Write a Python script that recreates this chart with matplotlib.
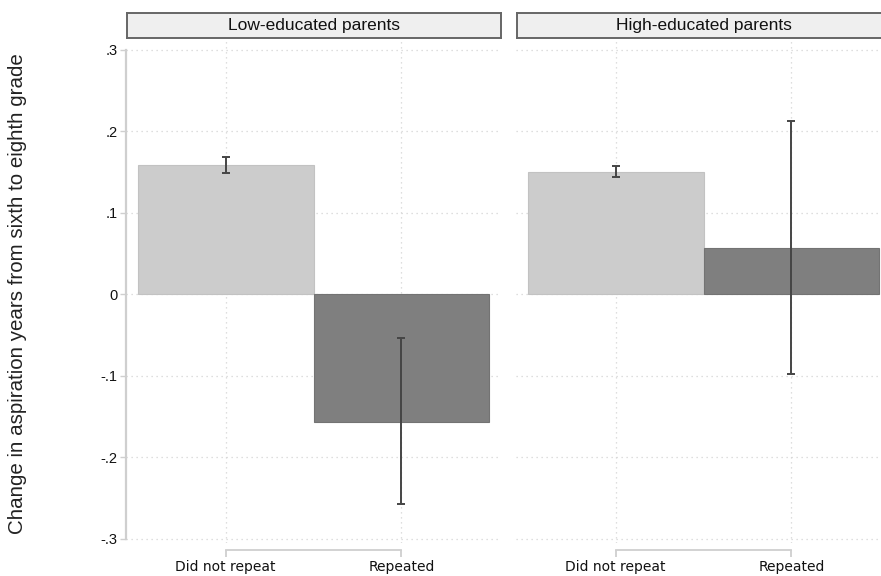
import matplotlib.pyplot as plt
import numpy as np
from matplotlib.ticker import FixedLocator, FuncFormatter


categories = ["Did not repeat", "Repeated"]
panels = ["Low-educated parents", "High-educated parents"]

low_means = [0.158, -0.157]
low_lower = [0.148, -0.258]
low_upper = [0.168, -0.054]

high_means = [0.150, 0.056]
high_lower = [0.143, -0.098]
high_upper = [0.157, 0.212]

y_ticks = [-0.3, -0.2, -0.1, 0.0, 0.1, 0.2, 0.3]
y_label = "Change in aspiration years from sixth to eighth grade"

W, H = 881, 576
BAR_COLORS = ["#cccccc", "#7f7f7f"]
EDGE_COLORS = ["#c2c2c2", "#737373"]
ERR_COLOR = "#454545"
AXIS_GRAY = "#cfcfcf"
GRID_GRAY = "#d4d4d4"
FONT = "Liberation Sans"


def fig_rect(x0, y0, x1, y1):
    # pixel box (top-left origin) -> figure fraction
    return [x0 / W, 1 - y1 / H, (x1 - x0) / W, (y1 - y0) / H]


def tick_fmt(v, pos):
    if abs(v) < 1e-9:
        return "0"
    s = f"{v:.1f}"
    return s.replace("0.", ".")


def panel(fig, px0, title, means, lower, upper, show_y):
    width = 374
    ax = fig.add_axes(fig_rect(px0, 39, px0 + width, 543))
    x = np.arange(len(categories))
    ax.bar(x, means, width=1.0, color=BAR_COLORS, edgecolor=EDGE_COLORS, lw=0.8, zorder=2)
    m = np.array(means)
    yerr = np.vstack((m - np.array(lower), np.array(upper) - m))
    ax.errorbar(x, m, yerr=yerr, fmt="none", ecolor=ERR_COLOR, elinewidth=1.4,
                capsize=3.0, capthick=1.4, zorder=3)

    ax.set_xlim(-0.566, 1.56)
    ax.set_ylim(-0.3055, 0.3129)
    ax.yaxis.set_major_locator(FixedLocator(y_ticks))
    ax.yaxis.set_major_formatter(FuncFormatter(tick_fmt))
    ax.set_xticks(x)
    ax.set_xticklabels(categories, fontsize=10, family=FONT)

    ax.grid(True, which="major", ls=(0, (1, 3)), color=GRID_GRAY, lw=0.9, zorder=0)
    ax.set_axisbelow(True)

    for side in ("top", "right"):
        ax.spines[side].set_visible(False)
    ax.spines["bottom"].set_position(("outward", 5))
    ax.spines["bottom"].set_bounds(0, 1)
    ax.spines["bottom"].set_color(AXIS_GRAY)
    ax.spines["bottom"].set_linewidth(1.3)
    ax.tick_params(axis="x", length=5, width=1.3, color=AXIS_GRAY, pad=2, labelcolor="#111111")

    if show_y:
        ax.spines["left"].set_bounds(-0.3, 0.3)
        ax.spines["left"].set_color(AXIS_GRAY)
        ax.spines["left"].set_linewidth(1.6)
        ax.tick_params(axis="y", length=4, width=1.0, color=AXIS_GRAY, pad=2,
                       labelsize=10.5, labelcolor="#111111")
        for lab in ax.get_yticklabels():
            lab.set_family(FONT)
    else:
        ax.spines["left"].set_visible(False)
        ax.tick_params(axis="y", length=0, labelleft=False)

    strip = fig.add_axes(fig_rect(px0 + 1, 13, px0 + width + 1, 38))
    strip.set_facecolor("#efefef")
    strip.set_xticks([])
    strip.set_yticks([])
    for sp in strip.spines.values():
        sp.set_color("#666666")
        sp.set_linewidth(1.4)
    strip.text(0.5, 0.5, title, ha="center", va="center", fontsize=12.5,
               family=FONT, color="#111111", transform=strip.transAxes)
    return ax


def main():
    fig = plt.figure(figsize=(W / 100, H / 100), dpi=100)
    fig.patch.set_facecolor("white")
    panel(fig, 126, panels[0], low_means, low_lower, low_upper, True)
    panel(fig, 516, panels[1], high_means, high_lower, high_upper, False)
    fig.text(18 / W, 1 - 294 / H, y_label, rotation=90, ha="center", va="center",
             fontsize=14.8, family=FONT, color="#222222")
    fig.savefig("out.png", dpi=100)
    plt.close(fig)


if __name__ == "__main__":
    main()
